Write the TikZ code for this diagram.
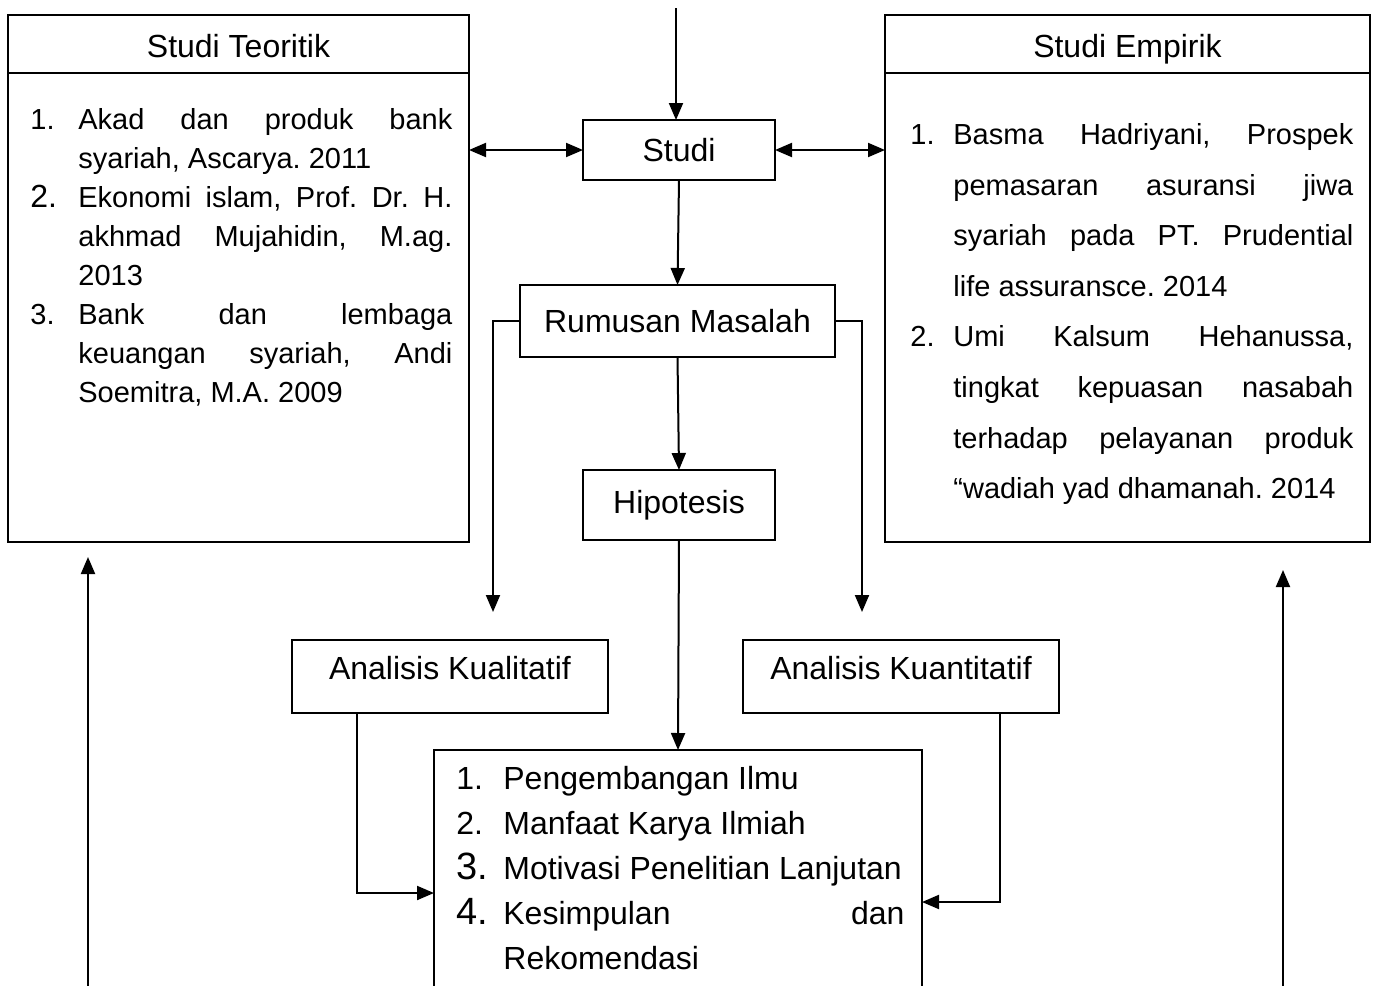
\documentclass[tikz,border=0pt]{standalone}
\usepackage{fontspec}
\setmainfont{Liberation Sans}
\usetikzlibrary{arrows.meta}

\newcommand{\nomor}[2][24pt]{\makebox[#1][l]{#2}}
\newcommand{\rata}[2]{\makebox[#1][s]{\spaceskip=0.1em plus 1fil\relax #2}}
\newcommand{\besar}[2][19]{{\fontsize{#1}{#1}\selectfont #2}}
\frenchspacing

\begin{document}
\begin{tikzpicture}[x=0.5pt, y=-0.5pt, font=\fontsize{16}{19.5}\selectfont\frenchspacing,
        kotak/.style={draw, line width=1pt, inner sep=0pt, outer sep=0pt},
        daftar/.style={inner sep=0pt, align=left, anchor=north west},
        panah/.style={line width=1pt, -{Triangle[length=8.5pt, width=7pt]}},
        duapanah/.style={line width=1pt, {Triangle[length=8.5pt, width=7pt]}-{Triangle[length=8.5pt, width=7pt]}}]
        \useasboundingbox (0, 0) rectangle (1378, 986);
        \clip (0, 0) rectangle (1378, 986);

        % kotak studi teoritik dan studi empirik
        \node[kotak, minimum width=230.5pt, minimum height=263.5pt] (teoritik) at (238.5, 278.5) {};
        \node[kotak, minimum width=242.5pt, minimum height=263.5pt] (empirik) at (1127.5, 278.5) {};
        \draw[line width=1pt] ([yshift=-29pt]teoritik.north west) -- ([yshift=-29pt]teoritik.north east);
        \draw[line width=1pt] ([yshift=-29pt]empirik.north west) -- ([yshift=-29pt]empirik.north east);
        \node[anchor=base] (judulteori) at (238.5, 57) {Studi Teoritik};
        \node[anchor=base] (judulempiri) at (1127.5, 57) {Studi Empirik};

        \node[daftar, font=\fontsize{14.5}{19.5}\selectfont] (listteori) at (30, 108) {%
            \nomor{1.}\rata{187pt}{Akad dan produk bank}\\
            \nomor{}syariah, Ascarya. 2011\\
            \nomor{\besar[16]{2.}}\rata{187pt}{Ekonomi islam, Prof. Dr. H.}\\
            \nomor{}\rata{187pt}{akhmad Mujahidin, M.ag.}\\
            \nomor{}2013\\
            \nomor{3.}\rata{187pt}{Bank dan lembaga}\\
            \nomor{}\rata{187pt}{keuangan syariah, Andi}\\
            \nomor{}Soemitra, M.A. 2009};

        \node[daftar, font=\fontsize{14.5}{25.3}\selectfont] (listempiri) at (910, 123) {%
            \nomor[21.5pt]{1.}\rata{200pt}{Basma Hadriyani, Prospek}\\
            \nomor[21.5pt]{}\rata{200pt}{pemasaran asuransi jiwa}\\
            \nomor[21.5pt]{}\rata{200pt}{syariah pada PT. Prudential}\\
            \nomor[21.5pt]{}life assuransce. 2014\\
            \nomor[21.5pt]{2.}\rata{200pt}{Umi Kalsum Hehanussa,}\\
            \nomor[21.5pt]{}\rata{200pt}{tingkat kepuasan nasabah}\\
            \nomor[21.5pt]{}\rata{200pt}{terhadap pelayanan produk}\\
            \nomor[21.5pt]{}``wadiah yad dhamanah. 2014};

        % alur tengah
        \node[kotak, minimum width=96pt, minimum height=30pt] (studi) at (679, 150) {Studi};
        \node[kotak, minimum width=157.5pt, minimum height=36pt] (rumusan) at (677.5, 321) {Rumusan Masalah};
        \node[kotak, minimum width=96pt, minimum height=35pt] (hipotesis) at (679, 505) {Hipotesis};
        \node[kotak, minimum width=158pt, minimum height=36.5pt, text height=11.5pt, text depth=8.5pt] (kualitatif) at (450, 676.5) {Analisis Kualitatif};
        \node[kotak, minimum width=158pt, minimum height=36.5pt, text height=11.5pt, text depth=8.5pt] (kuantitatif) at (901, 676.5) {Analisis Kuantitatif};
        \node[kotak, minimum width=244pt, minimum height=130pt] (hasil) at (678, 880) {};

        \node[daftar, font=\fontsize{16}{22.5}\selectfont] (listhasil) at (456, 766) {%
            \nomor[23.5pt]{1.}Pengembangan Ilmu\\
            \nomor[23.5pt]{2.}Manfaat Karya Ilmiah\\
            \nomor[23.5pt]{\besar{3.}}Motivasi Penelitian Lanjutan\\
            \nomor[23.5pt]{\besar{4.}}\rata{200.5pt}{Kesimpulan dan}\\
            \nomor[23.5pt]{}Rekomendasi};

        \coordinate (masuk) at (676, 8);
        \coordinate (kekiri) at (493, 612);
        \coordinate (kekanan) at (862, 612);
        \coordinate (beloka) at (357, 893);
        \coordinate (belokb) at (1000, 902);
        \coordinate (bawahkiri) at (88, 986);
        \coordinate (ujungkiri) at (88, 557);
        \coordinate (bawahkanan) at (1283, 986);
        \coordinate (ujungkanan) at (1283, 570);

        \draw [panah] (masuk) -- (masuk |- studi.north);
        \draw [duapanah] (studi.west -| teoritik.east) -- (studi.west);
        \draw [duapanah] (studi.east) -- (studi.east -| empirik.west);
        \draw [panah] (studi.south) -- (rumusan.north);
        \draw [panah] (rumusan.west) -| (kekiri);
        \draw [panah] (rumusan.east) -| (kekanan);
        \draw [panah] (rumusan.south) -- (hipotesis.north);
        \draw [panah] (hipotesis.south) -- (hasil.north);
        \draw [panah] (kualitatif.south -| beloka) -- (beloka) -- (beloka -| hasil.west);
        \draw [panah] (kuantitatif.south -| belokb) -- (belokb) -- (belokb -| hasil.east);
        \draw [panah] (bawahkiri) -- (ujungkiri);
        \draw [panah] (bawahkanan) -- (ujungkanan);
    \end{tikzpicture}
\end{document}
